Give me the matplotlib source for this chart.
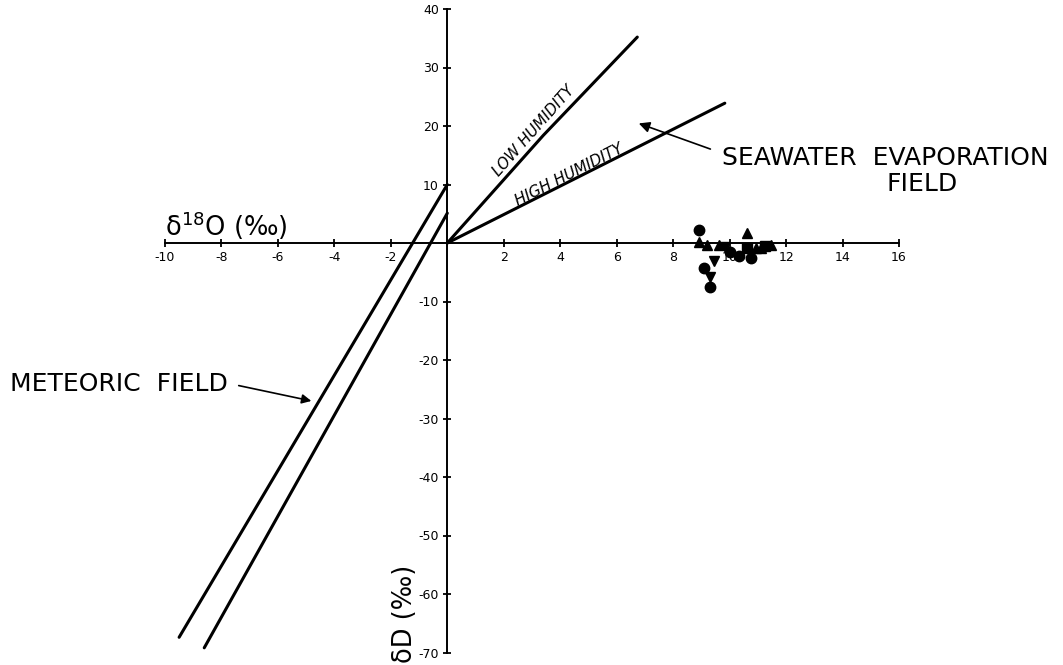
import matplotlib
matplotlib.use("Agg")
import matplotlib.pyplot as plt

# ---- data ----
x_ticks = [-10, -8, -6, -4, -2, 2, 4, 6, 8, 10, 12, 14, 16]
x_tick_labels = ["-10", "-8", "-6", "-4", "-2", "2", "4", "6", "8", "10", "12", "14", "16"]
y_ticks = [-70, -60, -50, -40, -30, -20, -10, 10, 20, 30, 40]
y_tick_labels = ["-70", "-60", "-50", "-40", "-30", "-20", "-10", "10", "20", "30", "40"]

meteoric_upper_x = [-9.5, 0.0]
meteoric_upper_y = [-67.4, 10.0]
meteoric_lower_x = [-8.61, 0.0]
meteoric_lower_y = [-69.2, 5.1]

low_hum_x = [0.0, 3.4, 6.73]
low_hum_y = [0.0, 18.4, 35.2]
high_hum_x = [0.0, 9.83]
high_hum_y = [0.0, 23.9]

circle_x = [8.91, 9.08, 9.32, 10.33, 10.74, 10.03]
circle_y = [2.2, -4.3, -7.5, -2.3, -2.6, -1.5]
tri_x = [10.62, 8.91, 9.20, 9.62, 10.92, 11.45, 11.10]
tri_y = [1.7, 0.1, -0.3, -0.3, -0.9, -0.3, -0.9]
itri_x = [9.44, 9.32, 9.85]
itri_y = [-3.0, -5.8, -0.6]
sq_x = [10.62, 11.25]
sq_y = [-0.9, -0.5]

W, H = 1063, 665
fig = plt.figure(figsize=(W / 100, H / 100), dpi=100)
ax = fig.add_axes([165 / W, (H - 652.5) / H, 734 / W, 643.5 / H])
ax.set_xlim(-10, 16)
ax.set_ylim(-70, 40)

for s in ["top", "right"]:
    ax.spines[s].set_visible(False)
ax.spines["left"].set_position(("data", 0))
ax.spines["bottom"].set_position(("data", 0))
ax.spines["left"].set_linewidth(1.4)
ax.spines["bottom"].set_linewidth(1.4)

ax.set_xticks(x_ticks, x_tick_labels)
ax.set_yticks(y_ticks, y_tick_labels)
ax.tick_params(direction="inout", length=6, width=1.3, labelsize=9, colors="black", pad=3)

lw = 2.2
ax.plot(meteoric_upper_x, meteoric_upper_y, color="black", lw=lw, solid_capstyle="round",
        solid_joinstyle="round", clip_on=False)
ax.plot(meteoric_lower_x, meteoric_lower_y, color="black", lw=lw, solid_capstyle="round", clip_on=False)
ax.plot(low_hum_x, low_hum_y, color="black", lw=lw, solid_capstyle="round",
        solid_joinstyle="round", clip_on=False)
ax.plot(high_hum_x, high_hum_y, color="black", lw=lw, solid_capstyle="round", clip_on=False)

ax.plot(circle_x, circle_y, "o", color="black", ms=7.5, clip_on=False)
ax.plot(tri_x, tri_y, "^", color="black", ms=7.5, clip_on=False)
ax.plot(itri_x, itri_y, "v", color="black", ms=7.5, clip_on=False)
ax.plot(sq_x, sq_y, "s", color="black", ms=6.5, clip_on=False)

ax.text(3.05, 19.2, "LOW HUMIDITY", rotation=48.5, ha="center", va="center", fontsize=11, style="italic")
ax.text(4.30, 11.6, "HIGH HUMIDITY", rotation=27, ha="center", va="center", fontsize=11, style="italic")

def fx(px):
    return px / W

def fy(py):
    return (H - py) / H

fig.text(fx(165), fy(226), r"δ$^{18}$O (‰)", fontsize=18.5, ha="left", va="center",
         math_fontfamily="dejavusans")
fig.text(fx(405), fy(614), r"δD (‰)", fontsize=18.5, ha="center", va="center", rotation=90)

fig.text(fx(10), fy(384), "METEORIC  FIELD", fontsize=18, ha="left", va="center")
fig.text(fx(722), fy(158), "SEAWATER  EVAPORATION", fontsize=18, ha="left", va="center")
fig.text(fx(922), fy(184), "FIELD", fontsize=18, ha="center", va="center")

ax.annotate("", xy=(-4.72, -27.1), xycoords="data",
            xytext=(236, H - 385), textcoords="figure pixels",
            arrowprops=dict(arrowstyle="-|>", color="black", lw=1.2, mutation_scale=14))
ax.annotate("", xy=(6.69, 20.6), xycoords="data",
            xytext=(713, H - 150), textcoords="figure pixels",
            arrowprops=dict(arrowstyle="-|>", color="black", lw=1.2, mutation_scale=16))

fig.savefig("out.png", dpi=100, facecolor="white")
